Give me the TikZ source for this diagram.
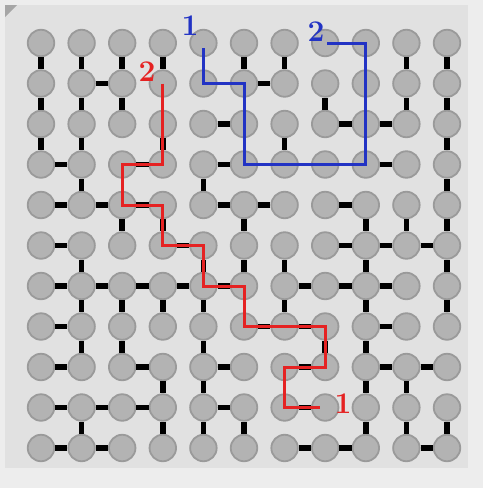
\documentclass[tikz,border=0pt]{standalone}
\usetikzlibrary{calc}
\definecolor{bgout}{HTML}{EDEDED}
\definecolor{panel}{HTML}{E1E1E1}
\definecolor{sitefill}{HTML}{B3B3B3}
\definecolor{siterim}{HTML}{9A9A9A}
\definecolor{pathred}{HTML}{E52222}
\definecolor{pathblue}{HTML}{2233C4}
\begin{document}
\begin{tikzpicture}[x=1pt,y=-1pt,
  site/.style={circle,fill=sitefill,draw=siterim,line width=1.8pt,minimum size=26.5pt,inner sep=0pt},
  bond/.style={line width=5.5pt,black},
  walkred/.style={pathred,line width=3pt},
  walkblue/.style={pathblue,line width=3pt},
  lab/.style={font=\fontsize{30}{32}\selectfont\bfseries,inner sep=0pt}]
\useasboundingbox (0,0) rectangle (483,488);
\fill[bgout] (0,0) rectangle (483,488);
\fill[panel] (5,5) rectangle (468,468);
\fill[gray!70] (5,5) -- (17,5) -- (5,17) -- cycle;
% sites
\foreach \c in {0,...,10}
  \foreach \r in {0,...,10}
    \node[site] (n-\c-\r) at ({41+40.6*\c},{43+40.5*\r}) {};
% horizontal bonds
\foreach \c/\r [evaluate=\c as \d using int(\c+1)] in {
  1/1,5/1,
  4/2,7/2,8/2,
  0/3,2/3,4/3,8/3,
  0/4,1/4,2/4,4/4,5/4,7/4,
  0/5,3/5,7/5,8/5,9/5,
  0/6,1/6,2/6,3/6,4/6,6/6,7/6,8/6,
  0/7,5/7,6/7,8/7,
  0/8,2/8,4/8,6/8,8/8,9/8,
  0/9,1/9,2/9,4/9,6/9,
  0/10,1/10,6/10,7/10,9/10}
  \draw[bond] (n-\c-\r) -- (n-\d-\r);
% vertical bonds
\foreach \c/\r [evaluate=\r as \s using int(\r+1)] in {
  0/0,1/0,2/0,3/0,5/0,6/0,9/0,10/0,
  0/1,1/1,2/1,7/1,9/1,10/1,
  0/2,1/2,3/2,6/2,10/2,
  1/3,4/3,10/3,
  2/4,3/4,5/4,8/4,9/4,10/4,
  1/5,4/5,5/5,6/5,8/5,10/5,
  1/6,2/6,3/6,4/6,6/6,8/6,10/6,
  1/7,2/7,4/7,7/7,8/7,
  3/8,4/8,8/8,9/8,
  1/9,3/9,4/9,5/9,8/9,9/9,10/9}
  \draw[bond] (n-\c-\r) -- (n-\c-\s);
% paths
\draw[walkred] (n-3-1.center) -- (n-3-3.center) -- (n-2-3.center) -- (n-2-4.center)
  -- (n-3-4.center) -- (n-3-5.center) -- (n-4-5.center) -- (n-4-6.center)
  -- (n-5-6.center) -- (n-5-7.center) -- (n-7-7.center) -- (n-7-8.center)
  -- (n-6-8.center) -- (n-6-9.center) -- ($(n-7-9.center)+(-5,0)$);
\draw[walkblue] ($(n-4-0.center)+(0,5)$) -- (n-4-1.center) -- (n-5-1.center)
  -- (n-5-3.center) -- (n-8-3.center) -- (n-8-0.center) -- ($(n-7-0.center)+(2,0)$);
% labels
\node[lab,text=pathblue] (b1) at (190,26) {1};
\node[lab,text=pathblue] (b2) at (316,32) {2};
\node[lab,text=pathred] (r2) at (147,72) {2};
\node[lab,text=pathred] (r1) at (343,404) {1};
\end{tikzpicture}
\end{document}
